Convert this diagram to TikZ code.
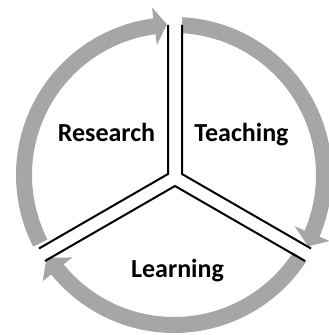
\documentclass[tikz,border=0pt]{standalone}
\usepackage{fontspec}
\setmainfont{Carlito}
\definecolor{ringgray}{RGB}{166,166,166}
\tikzset{
  arrowband/.style={fill=ringgray, draw=none},
  divider/.style={draw=black, line width=2pt, line join=miter, line cap=butt},
  label/.style={font=\fontsize{26}{30}\selectfont\bfseries, anchor=base, inner sep=0pt}
}
\begin{document}
\begin{tikzpicture}[x=1pt,y=1pt]
\useasboundingbox (0,0) rectangle (329,335);
% ring of three arrows
\begin{scope}[shift={(174,160)}]
  \fill[arrowband] (207:158) arc[start angle=207, end angle=97.5, radius=158]
     -- (97.5:169) -- (92.7:151) -- (97.5:131) -- (97.5:142)
     arc[start angle=97.5, end angle=207, radius=142] -- cycle;
  \fill[arrowband] (87:158) arc[start angle=87, end angle=-23, radius=158]
     -- (-23:169) -- (-28:152) -- (-23:131) -- (-23:142)
     arc[start angle=-23, end angle=87, radius=142] -- cycle;
  \fill[arrowband] (-33:158) arc[start angle=-33, end angle=-141, radius=158]
     -- (-141:169) -- (-147:152) -- (-141:131) -- (-141:142)
     arc[start angle=-141, end angle=-33, radius=142] -- cycle;
\end{scope}
% dividing Y (double lines)
\coordinate (JL) at (168,161);
\coordinate (JR) at (182,161);
\coordinate (JB) at (175,149);
\coordinate (TL) at (168,310);
\coordinate (TR) at (182,310);
\coordinate (LU) at (39,86.5);
\coordinate (LL) at (45,74);
\coordinate (RU) at (311,86.5);
\coordinate (RL) at (305,74);
\draw[divider] (TL) -- (JL) -- (LU);
\draw[divider] (TR) -- (JR) -- (RU);
\draw[divider] (LL) -- (JB) -- (RL);
% labels
\node[label] (research) at (106.5,193.3) {Research};
\node[label] (teaching) at (241.5,193.3) {Teaching};
\node[label] (learning) at (177.5,57) {Learning};
\end{tikzpicture}
\end{document}
